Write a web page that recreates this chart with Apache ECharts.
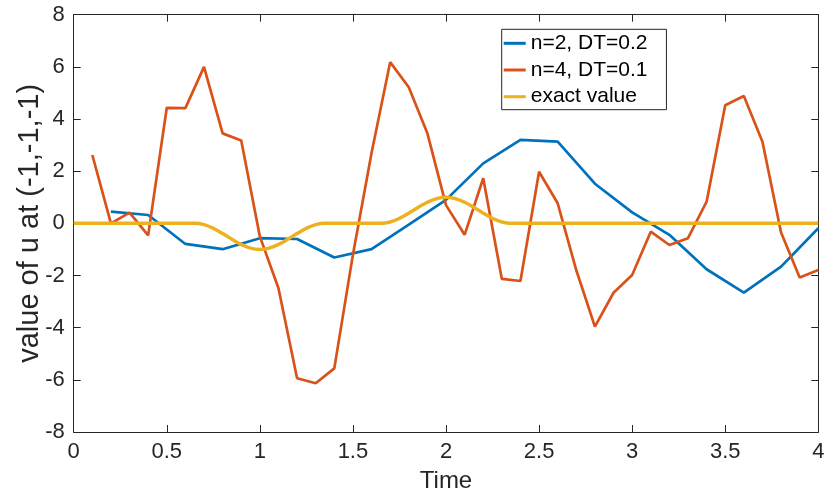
<!DOCTYPE html>
<html>
<head>
<meta charset="utf-8">
<script src="https://cdn.jsdelivr.net/npm/echarts@6/dist/echarts.min.js"></script>
<style>html,body{margin:0;padding:0;background:#fff}#c{width:827px;height:502px}</style>
</head>
<body>
<div id="c"></div>
<script>
// n=2, DT=0.2
const timeBlue = [0.2,0.4,0.6,0.8,1.0,1.2,1.4,1.6,1.8,2.0,2.2,2.4,2.6,2.8,3.0,3.2,3.4,3.6,3.8,4.0];
const valuesBlue = [0.45,0.32,-0.79,-0.99,-0.57,-0.6,-1.31,-0.99,-0.05,0.9,2.3,3.2,3.13,1.52,0.42,-0.44,-1.76,-2.66,-1.66,-0.19];
// n=4, DT=0.1
const timeRed = [0.1,0.2,0.3,0.4,0.5,0.6,0.7,0.8,0.9,1.0,1.1,1.2,1.3,1.4,1.5,1.6,1.7,1.8,1.9,2.0,2.1,2.2,2.3,2.4,2.5,2.6,2.7,2.8,2.9,3.0,3.1,3.2,3.3,3.4,3.5,3.6,3.7,3.8,3.9,4.0];
const valuesRed = [2.62,0.0,0.41,-0.46,4.43,4.42,6.0,3.45,3.18,-0.5,-2.49,-5.94,-6.13,-5.56,-1.2,2.7,6.18,5.22,3.45,0.7,-0.44,1.73,-2.13,-2.21,1.98,0.77,-1.8,-3.96,-2.66,-1.98,-0.32,-0.83,-0.57,0.83,4.53,4.88,3.13,-0.35,-2.08,-1.79];
// exact value
const timeExact = [0,0.6,0.65,0.7,0.75,0.8,0.85,0.9,0.95,1.0,1.05,1.1,1.15,1.2,1.25,1.3,1.35,1.4,1.6,1.65,1.7,1.75,1.8,1.85,1.9,1.95,2.0,2.05,2.1,2.15,2.2,2.25,2.3,2.35,2.4,4.0];
const valuesExact = [0,0,0,-0.05,-0.19,-0.39,-0.61,-0.81,-0.95,-1,-0.95,-0.81,-0.61,-0.39,-0.19,-0.05,0,0,0,0,0.05,0.19,0.39,0.61,0.81,0.95,1,0.95,0.81,0.61,0.39,0.19,0.05,0,0,0];
const seriesNames = ['n=2, DT=0.2','n=4, DT=0.1','exact value'];
const xTitle = 'Time';
const yTitle = 'value of u at (-1,-1,-1)';
const xTicks = {min:0,max:4,interval:0.5};
const yTicks = {min:-8,max:8,interval:2};

const zip = (a,b)=>a.map((v,i)=>[v,b[i]]);
const FONT = 'Liberation Sans, Arial, Helvetica, sans-serif';
const AX = '#262626';
const G = {left:73.7,right:8.7,top:14.7,bottom:70};
const W = 827, H = 502;
const chart = echarts.init(document.getElementById('c'));
const axLine = ()=>({show:true,onZero:false,lineStyle:{color:AX,width:1}});
const tickIn = ()=>({show:true,inside:true,length:7,lineStyle:{color:AX,width:1}});
chart.setOption({
  animation:false,
  backgroundColor:'#fff',
  grid:{left:G.left,right:G.right,top:G.top,bottom:G.bottom,outerBoundsMode:'none'},
  legend:{
    data:seriesNames.map(n=>({name:n,icon:'rect'})),
    orient:'vertical', left:501.7, top:29.3,
    itemWidth:22, itemHeight:3, itemGap:2.7,
    padding:[2,19,1,2],
    borderColor:AX, borderWidth:1, backgroundColor:'#fff',
    textStyle:{fontFamily:FONT,fontSize:21,color:'#000',lineHeight:24}
  },
  graphic:[
    {type:'text',silent:true,x:(G.left+W-G.right)/2,y:481,
     style:{text:xTitle,font:'24px '+FONT,fill:AX,textAlign:'center',textVerticalAlign:'middle'}},
    {type:'text',silent:true,x:30,y:(G.top+H-G.bottom)/2,rotation:Math.PI/2,
     style:{text:yTitle,font:'29px '+FONT,fill:AX,textAlign:'center',textVerticalAlign:'middle'}}
  ],
  xAxis:[
    {type:'value',min:xTicks.min,max:xTicks.max,interval:xTicks.interval,position:'bottom',
     axisLine:axLine(),axisTick:tickIn(),splitLine:{show:false},
     axisLabel:{fontFamily:FONT,fontSize:22,color:AX,margin:9}},
    {type:'value',min:xTicks.min,max:xTicks.max,interval:xTicks.interval,position:'top',
     axisLine:axLine(),axisTick:tickIn(),splitLine:{show:false},axisLabel:{show:false}}
  ],
  yAxis:[
    {type:'value',min:yTicks.min,max:yTicks.max,interval:yTicks.interval,position:'left',
     axisLine:axLine(),axisTick:tickIn(),splitLine:{show:false},
     axisLabel:{fontFamily:FONT,fontSize:22,color:AX,margin:9}},
    {type:'value',min:yTicks.min,max:yTicks.max,interval:yTicks.interval,position:'right',
     axisLine:axLine(),axisTick:tickIn(),splitLine:{show:false},axisLabel:{show:false}}
  ],
  series:[
    {name:seriesNames[0],type:'line',data:zip(timeBlue,valuesBlue),showSymbol:false,
     lineStyle:{color:'#0072BD',width:2.7},itemStyle:{color:'#0072BD'}},
    {name:seriesNames[1],type:'line',data:zip(timeRed,valuesRed),showSymbol:false,
     lineStyle:{color:'#D95319',width:2.7},itemStyle:{color:'#D95319'}},
    {name:seriesNames[2],type:'line',data:zip(timeExact,valuesExact),showSymbol:false,smooth:0.4,
     lineStyle:{color:'#EDB120',width:3.5},itemStyle:{color:'#EDB120'}}
  ]
});
</script>
</body>
</html>
